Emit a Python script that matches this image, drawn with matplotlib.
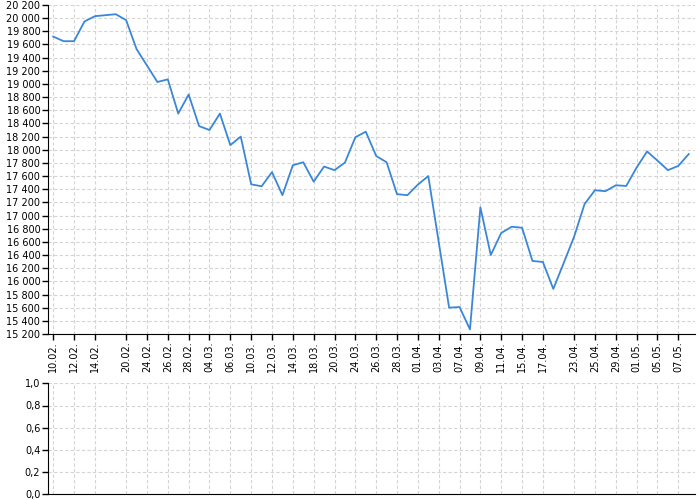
import numpy as np
import matplotlib
matplotlib.use('Agg')
import matplotlib.pyplot as plt
from matplotlib.ticker import FuncFormatter, MultipleLocator

# значения ряда (по торговым дням)
prices = [19720, 19650, 19650, 19950, 20030, 20045, 20060, 19970, 19530, 19280,
          19030, 19070, 18550, 18840, 18360, 18300, 18550, 18070, 18200, 17475,
          17445, 17660, 17310, 17765, 17810, 17515, 17745, 17690, 17805, 18190,
          18275, 17905, 17810, 17325, 17310, 17470, 17600, 16600, 15600, 15610,
          15270, 17125, 16400, 16735, 16830, 16815, 16310, 16295, 15885, 16280,
          16680, 17175, 17385, 17370, 17460, 17450, 17730, 17975, 17835, 17690,
          17755, 17935]

# подписи по оси X
tick_idx = [0, 2, 4, 7, 9, 11, 13, 15, 17, 19, 21, 23, 25, 27, 29, 31, 33, 35,
            37, 39, 41, 43, 45, 47, 50, 52, 54, 56, 58, 60]
tick_labels = ['10.02.', '12.02.', '14.02.', '20.02.', '24.02.', '26.02.', '28.02.',
               '04.03.', '06.03.', '10.03.', '12.03.', '14.03.', '18.03.', '20.03.',
               '24.03.', '26.03.', '28.03.', '01.04.', '03.04.', '07.04.', '09.04.',
               '11.04.', '15.04.', '17.04.', '23.04.', '25.04.', '29.04.', '01.05.',
               '05.05.', '07.05.']

x = np.arange(len(prices))

fig = plt.figure(figsize=(7, 5), dpi=100)
ax = fig.add_axes([48/700, 1-334/500, 647/700, 329/500])
ax2 = fig.add_axes([48/700, 1-494.3/500, 647/700, 111/500])

grid_kw = dict(color='#d4d4d4', linestyle=(0, (3, 2)), linewidth=0.8)

ax.plot(x, prices, color='#3a87d9', lw=1.3)
ax.set_xlim(-0.5, 61.6)
ax.set_ylim(15200, 20200)
ax.yaxis.set_major_locator(MultipleLocator(200))
ax.yaxis.set_major_formatter(FuncFormatter(lambda v, p: f'{v:,.0f}'.replace(',', ' ')))
ax.set_xticks(tick_idx)
ax.set_xticklabels(tick_labels, rotation=90, va='top')
ax.grid(True, **grid_kw)

ax2.set_xlim(-0.5, 61.6)
ax2.set_ylim(0, 1)
ax2.set_xticks(tick_idx)
ax2.yaxis.set_major_locator(MultipleLocator(0.2))
ax2.yaxis.set_major_formatter(FuncFormatter(lambda v, p: f'{v:.1f}'.replace('.', ',')))
ax2.grid(True, **grid_kw)

for a in (ax, ax2):
    a.spines['top'].set_visible(False)
    a.spines['right'].set_visible(False)
    a.set_axisbelow(True)
    a.tick_params(labelsize=7, length=4, width=1, pad=1.5)

ax2.tick_params(axis='x', length=0, labelbottom=False)

plt.savefig('out.png', dpi=100)
